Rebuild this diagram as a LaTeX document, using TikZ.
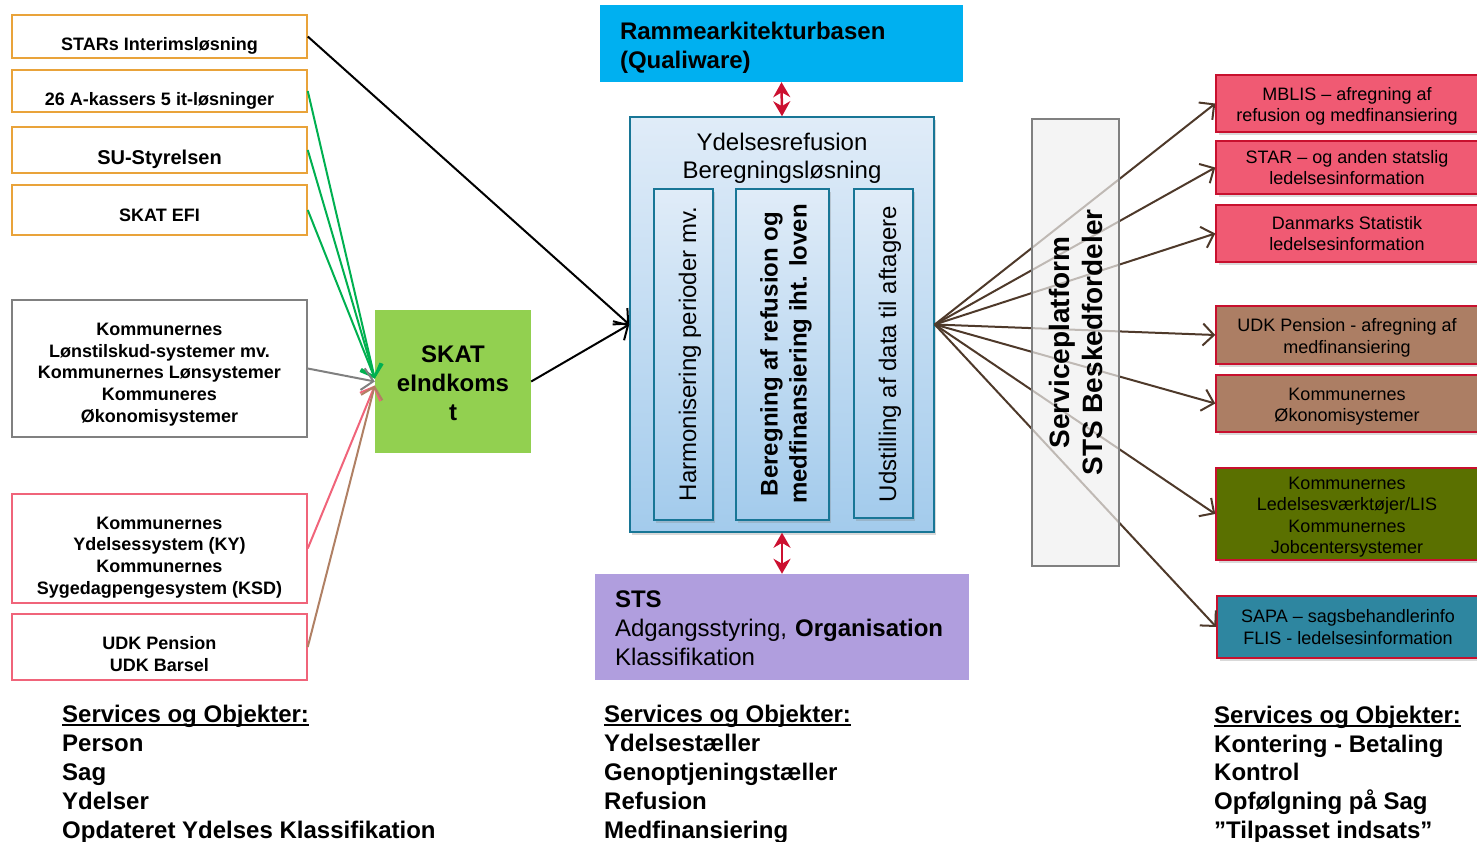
\documentclass[tikz,border=0pt]{standalone}
\usepackage{fontspec}
\setmainfont{Liberation Sans}
\usetikzlibrary{arrows.meta,shadows}

\definecolor{orangeline}{RGB}{233,163,58}
\definecolor{greyline}{RGB}{128,128,128}
\definecolor{pinkline}{RGB}{240,100,122}
\definecolor{arrowgreen}{RGB}{0,176,80}
\definecolor{arrowbrown}{RGB}{176,128,100}
\definecolor{skatgreen}{RGB}{146,208,80}
\definecolor{rammeblue}{RGB}{0,176,240}
\definecolor{linkred}{RGB}{204,16,48}
\definecolor{ctrtop}{RGB}{224,236,248}
\definecolor{ctrbottom}{RGB}{163,203,236}
\definecolor{ctrline}{RGB}{24,118,150}
\definecolor{stspurple}{RGB}{176,158,222}
\definecolor{spgrey}{RGB}{240,240,240}
\definecolor{outred}{RGB}{200,16,46}
\definecolor{outpink}{RGB}{240,90,115}
\definecolor{outbrown}{RGB}{172,126,100}
\definecolor{outolive}{RGB}{90,112,0}
\definecolor{outteal}{RGB}{46,134,160}
\definecolor{arrowdark}{RGB}{78,57,42}

\newcommand{\dnbox}[3][c]{\raisebox{-#2}[\height][\depth]{\begin{tabular}{@{}#1@{}}#3\end{tabular}}}
\newcommand{\ulhead}[1]{\setbox0\hbox{#1}\rlap{\rule[-3.5pt]{\wd0}{1.6pt}}\box0}

\tikzset{
  srcbox/.style={draw=#1, line width=1.5pt, fill=white, minimum width=295, inner sep=0pt, align=center, font=\bfseries\fontsize{18}{21.7}\selectfont},
  inarrow/.style={draw=#1, line width=2pt, -{Straight Barb[length=11pt,width=22pt]}},
  linkarrow/.style={draw=linkred, line width=2.5pt, {Stealth[length=15pt,width=17pt]}-{Stealth[length=15pt,width=17pt]}},
  colbox/.style={draw=ctrline, line width=1.5pt, top color=ctrtop, bottom color=ctrbottom, inner sep=0pt, drop shadow={shadow xshift=2pt,shadow yshift=-3pt,opacity=.3}},
  coltext/.style={rotate=90, inner sep=0pt, align=center, font=\fontsize{24}{29}\selectfont},
  outbox/.style={draw=outred, line width=1.5pt, fill=#1, minimum width=262, inner sep=0pt, align=center, font=\fontsize{18}{21.5}\selectfont, drop shadow={shadow xshift=3pt,shadow yshift=-3pt,opacity=.3}},
  outarrow/.style={draw=arrowdark, line width=2pt, -{Straight Barb[length=11pt,width=22pt]}},
  listtext/.style={anchor=north west, inner sep=0pt, align=left, font=\bfseries\fontsize{24}{29}\selectfont},
}

\begin{document}
\begin{tikzpicture}[x=1pt,y=-1pt]
\useasboundingbox (0,0) rectangle (1477,842);

\node[srcbox=orangeline, minimum height=43] (stars) at (159.5,36.5) {\dnbox{10pt}{STARs Interimsløsning}};
\node[srcbox=orangeline, minimum height=42] (akasse) at (159.5,91) {\dnbox{10pt}{26 A-kassers 5 it-løsninger}};
\node[srcbox=orangeline, minimum height=46, font=\bfseries\fontsize{20}{24}\selectfont] (su) at (159.5,150) {\dnbox{10pt}{SU-Styrelsen}};
\node[srcbox=orangeline, minimum height=50] (efi) at (159.5,210) {\dnbox{7pt}{SKAT EFI}};
\node[srcbox=greyline, minimum height=137] (kommloen) at (159.5,368.5) {\dnbox{6pt}{Kommunernes\\Lønstilskud-systemer mv.\\Kommunernes Lønsystemer\\Kommuneres\\Økonomisystemer}};
\node[srcbox=pinkline, minimum height=109] (kommyd) at (159.5,548.5) {\dnbox{9pt}{Kommunernes\\Ydelsessystem (KY)\\Kommunernes\\Sygedagpengesystem (KSD)}};
\node[srcbox=pinkline, minimum height=66] (udk) at (159.5,647) {\dnbox{9pt}{UDK Pension\\UDK Barsel}};

\node[fill=skatgreen, minimum width=156, minimum height=143, inner sep=0pt, align=center, font=\bfseries\fontsize{24}{29}\selectfont] (skat) at (453,381.5) {\dnbox{4pt}{SKAT\\eIndkoms\\t}};
\coordinate (hubg) at ([yshift=3pt]skat.west);
\coordinate (hubp) at ([yshift=-4pt]skat.west);

\node[fill=rammeblue, minimum width=363, minimum height=77, text width=323, inner sep=0pt, align=left, font=\bfseries\fontsize{24}{29}\selectfont] (ramme) at (781.5,43.5) {\dnbox[l]{5pt}{Rammearkitekturbasen\\(Qualiware)}};

\node[colbox, minimum width=304, minimum height=415] (ctr) at (782,324.5) {};
\node[font=\fontsize{24}{28}\selectfont, align=center, inner sep=0pt] (ctrtitle) at (782,156) {\dnbox{3pt}{Ydelsesrefusion\\Beregningsløsning}};
\node[colbox, minimum width=59, minimum height=331] (colA) at (683.5,354.5) {};
\node[colbox, minimum width=93, minimum height=331] (colB) at (782.5,354.5) {};
\node[colbox, minimum width=59, minimum height=329] (colC) at (883.5,353.5) {};
\node[coltext] (colAtext) at (690,354) {Harmonisering perioder mv.};
\node[coltext, font=\bfseries\fontsize{24}{29}\selectfont] (colBtext) at (786,354) {Beregning af refusion og\\medfinansiering iht. loven};
\node[coltext] (colCtext) at (890,354) {Udstilling af data til aftagere};

\node[fill=stspurple, minimum width=374, minimum height=106, text width=334, inner sep=0pt, align=left, font=\fontsize{24}{29}\selectfont] (sts) at (782,627) {\dnbox[l]{4pt}{\textbf{STS}\\Adgangsstyring, \textbf{Organisation}\\Klassifikation}};

\draw[linkarrow] (ramme.south) -- (ctr.north);
\draw[linkarrow] (ctr.south) -- (sts.north);

\draw[inarrow=black] (stars.east) -- (ctr.west);
\draw[inarrow=black] (skat.east) -- (ctr.west);
\foreach \src in {akasse,su,efi}
  \draw[inarrow=arrowgreen] (\src.east) -- (hubg);
\draw[inarrow=greyline] (kommloen.east) -- (skat.west);
\draw[inarrow=pinkline] (kommyd.east) -- (hubp);
\draw[inarrow=arrowbrown] (udk.east) -- (hubp);

\node[outbox=outpink, minimum height=57] (mblis) at (1347,103.5) {\dnbox{3pt}{MBLIS – afregning af\\refusion og medfinansiering}};
\node[outbox=outpink, minimum height=53] (star) at (1347,167.5) {\dnbox{2pt}{STAR – og anden statslig\\ledelsesinformation}};
\node[outbox=outpink, minimum height=57] (dst) at (1347,233.5) {\dnbox{2pt}{Danmarks Statistik\\ledelsesinformation}};
\node[outbox=outbrown, minimum height=58] (udkpens) at (1347,335) {\dnbox{3pt}{UDK Pension - afregning af\\medfinansiering}};
\node[outbox=outbrown, minimum height=57] (kommoek) at (1347,403.5) {\dnbox{3pt}{Kommunernes\\Økonomisystemer}};
\node[outbox=outolive, minimum height=92] (kommlis) at (1347,514) {\dnbox{3pt}{Kommunernes\\Ledelsesværktøjer/LIS\\Kommunernes\\Jobcentersystemer}};
\node[outbox=outteal, minimum height=62] (sapa) at (1348,627) {\dnbox{2pt}{SAPA – sagsbehandlerinfo\\FLIS - ledelsesinformation}};

\foreach \tgt in {mblis,star,dst,udkpens,kommoek,kommlis,sapa}
  \draw[outarrow] (ctr.east) -- (\tgt.west);

\node[draw=greyline, line width=1.5pt, fill=spgrey, fill opacity=.7, text opacity=1, rotate=90, minimum width=447, minimum height=87, inner sep=0pt, align=center, font=\bfseries\fontsize{28}{33}\selectfont] (sp) at (1075.5,342.5) {Serviceplatform\\STS Beskedfordeler};

\node[listtext] (listleft) at (62,705) {\ulhead{Services og Objekter:}\\Person\\Sag\\Ydelser\\Opdateret Ydelses Klassifikation};
\node[listtext] (listmid) at (604,705) {\ulhead{Services og Objekter:}\\Ydelsestæller\\Genoptjeningstæller\\Refusion\\Medfinansiering};
\node[listtext, font=\bfseries\fontsize{24}{28.7}\selectfont] (listright) at (1214,706) {\ulhead{Services og Objekter:}\\Kontering - Betaling\\Kontrol\\Opfølgning på Sag\\”Tilpasset indsats”};
\end{tikzpicture}
\end{document}
